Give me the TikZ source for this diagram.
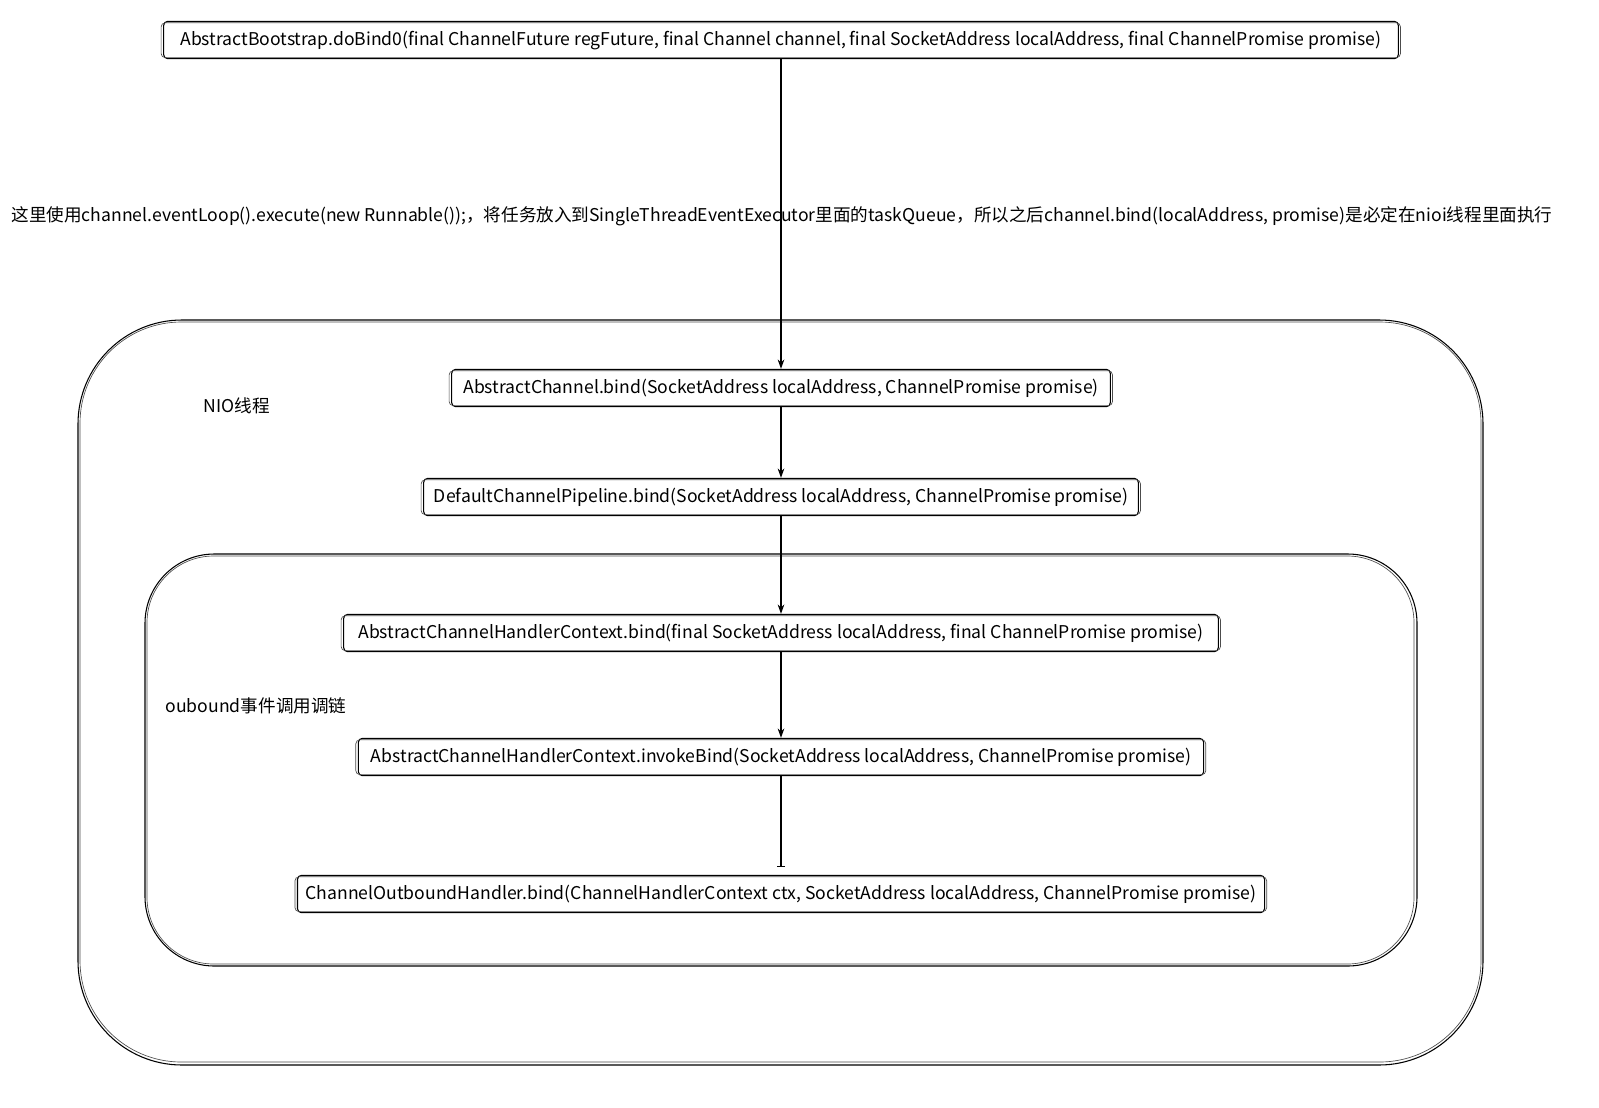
\documentclass[tikz,border=0pt]{standalone}
\usepackage{fontspec}
\setmainfont{Noto Sans CJK SC}
\usetikzlibrary{arrows.meta}
\begin{document}
\begin{tikzpicture}[x=0.75pt,y=-0.75pt,
  font=\fontsize{13.2pt}{15pt}\selectfont,
  method/.style={draw=black,line width=0.8pt,rounded corners=3pt,minimum height=28pt,inner xsep=6pt,inner ysep=0pt},
  sketch/.style={draw=black!70,line width=0.5pt,rounded corners=3pt},
  region/.style={draw=black,line width=0.8pt},
  conn/.style={draw=black,line width=0.8pt,-{Stealth[length=7pt,width=5pt]}},
  plain/.style={inner sep=0pt}]
\useasboundingbox (0,0) rectangle (1599,1107);
\fill[white] (0,0) rectangle (1599,1107);

\draw[region,rounded corners=78pt] (78,320) rectangle (1483,1065);
\draw[region,black!70,line width=0.5pt,rounded corners=76pt] (80,322) rectangle (1481,1062);
\draw[region,rounded corners=52pt] (145,554) rectangle (1417,966);
\draw[region,black!70,line width=0.5pt,rounded corners=50pt] (147,556) rectangle (1414,964);

\node[method,minimum width=926pt] (top) at (781,40) {AbstractBootstrap.doBind0(final ChannelFuture regFuture, final Channel channel, final SocketAddress localAddress, final ChannelPromise promise)};
\node[plain] (note) at (782,216) {这里使用channel.eventLoop().execute(new Runnable());，将任务放入到SingleThreadEventExecutor里面的taskQueue，所以之后channel.bind(localAddress, promise)是必定在nioi线程里面执行};
\node[method,minimum width=494pt] (b1) at (781,388) {AbstractChannel.bind(SocketAddress localAddress, ChannelPromise promise)};
\node[method,minimum width=536pt] (b2) at (781,497) {DefaultChannelPipeline.bind(SocketAddress localAddress, ChannelPromise promise)};
\node[method,minimum width=656pt] (b3) at (781,633) {AbstractChannelHandlerContext.bind(final SocketAddress localAddress, final ChannelPromise promise)};
\node[method,minimum width=634pt] (b4) at (781,757) {AbstractChannelHandlerContext.invokeBind(SocketAddress localAddress, ChannelPromise promise)};
\node[method,minimum width=721pt] (b5) at (781,894) {ChannelOutboundHandler.bind(ChannelHandlerContext ctx, SocketAddress localAddress, ChannelPromise promise)};

\foreach \n in {top,b1,b2,b3,b4,b5}
  \draw[sketch] ([xshift=-1.5pt,yshift=1.2pt]\n.south west) rectangle ([xshift=1.2pt,yshift=-1.5pt]\n.north east);

\node[plain] (nio) at (237,406) {NIO线程};
\node[plain] (outb) at (256,706) {oubound事件调用调链};

\draw[conn] (top) -- (b1);
\draw[conn] (b1) -- (b2);
\draw[conn] (b2) -- (b3);
\draw[conn] (b3) -- (b4);
\draw[draw=black,line width=0.8pt,-{Bar[width=6pt]}] (b4.south) -- ([yshift=6pt]b5.north);
\end{tikzpicture}
\end{document}
